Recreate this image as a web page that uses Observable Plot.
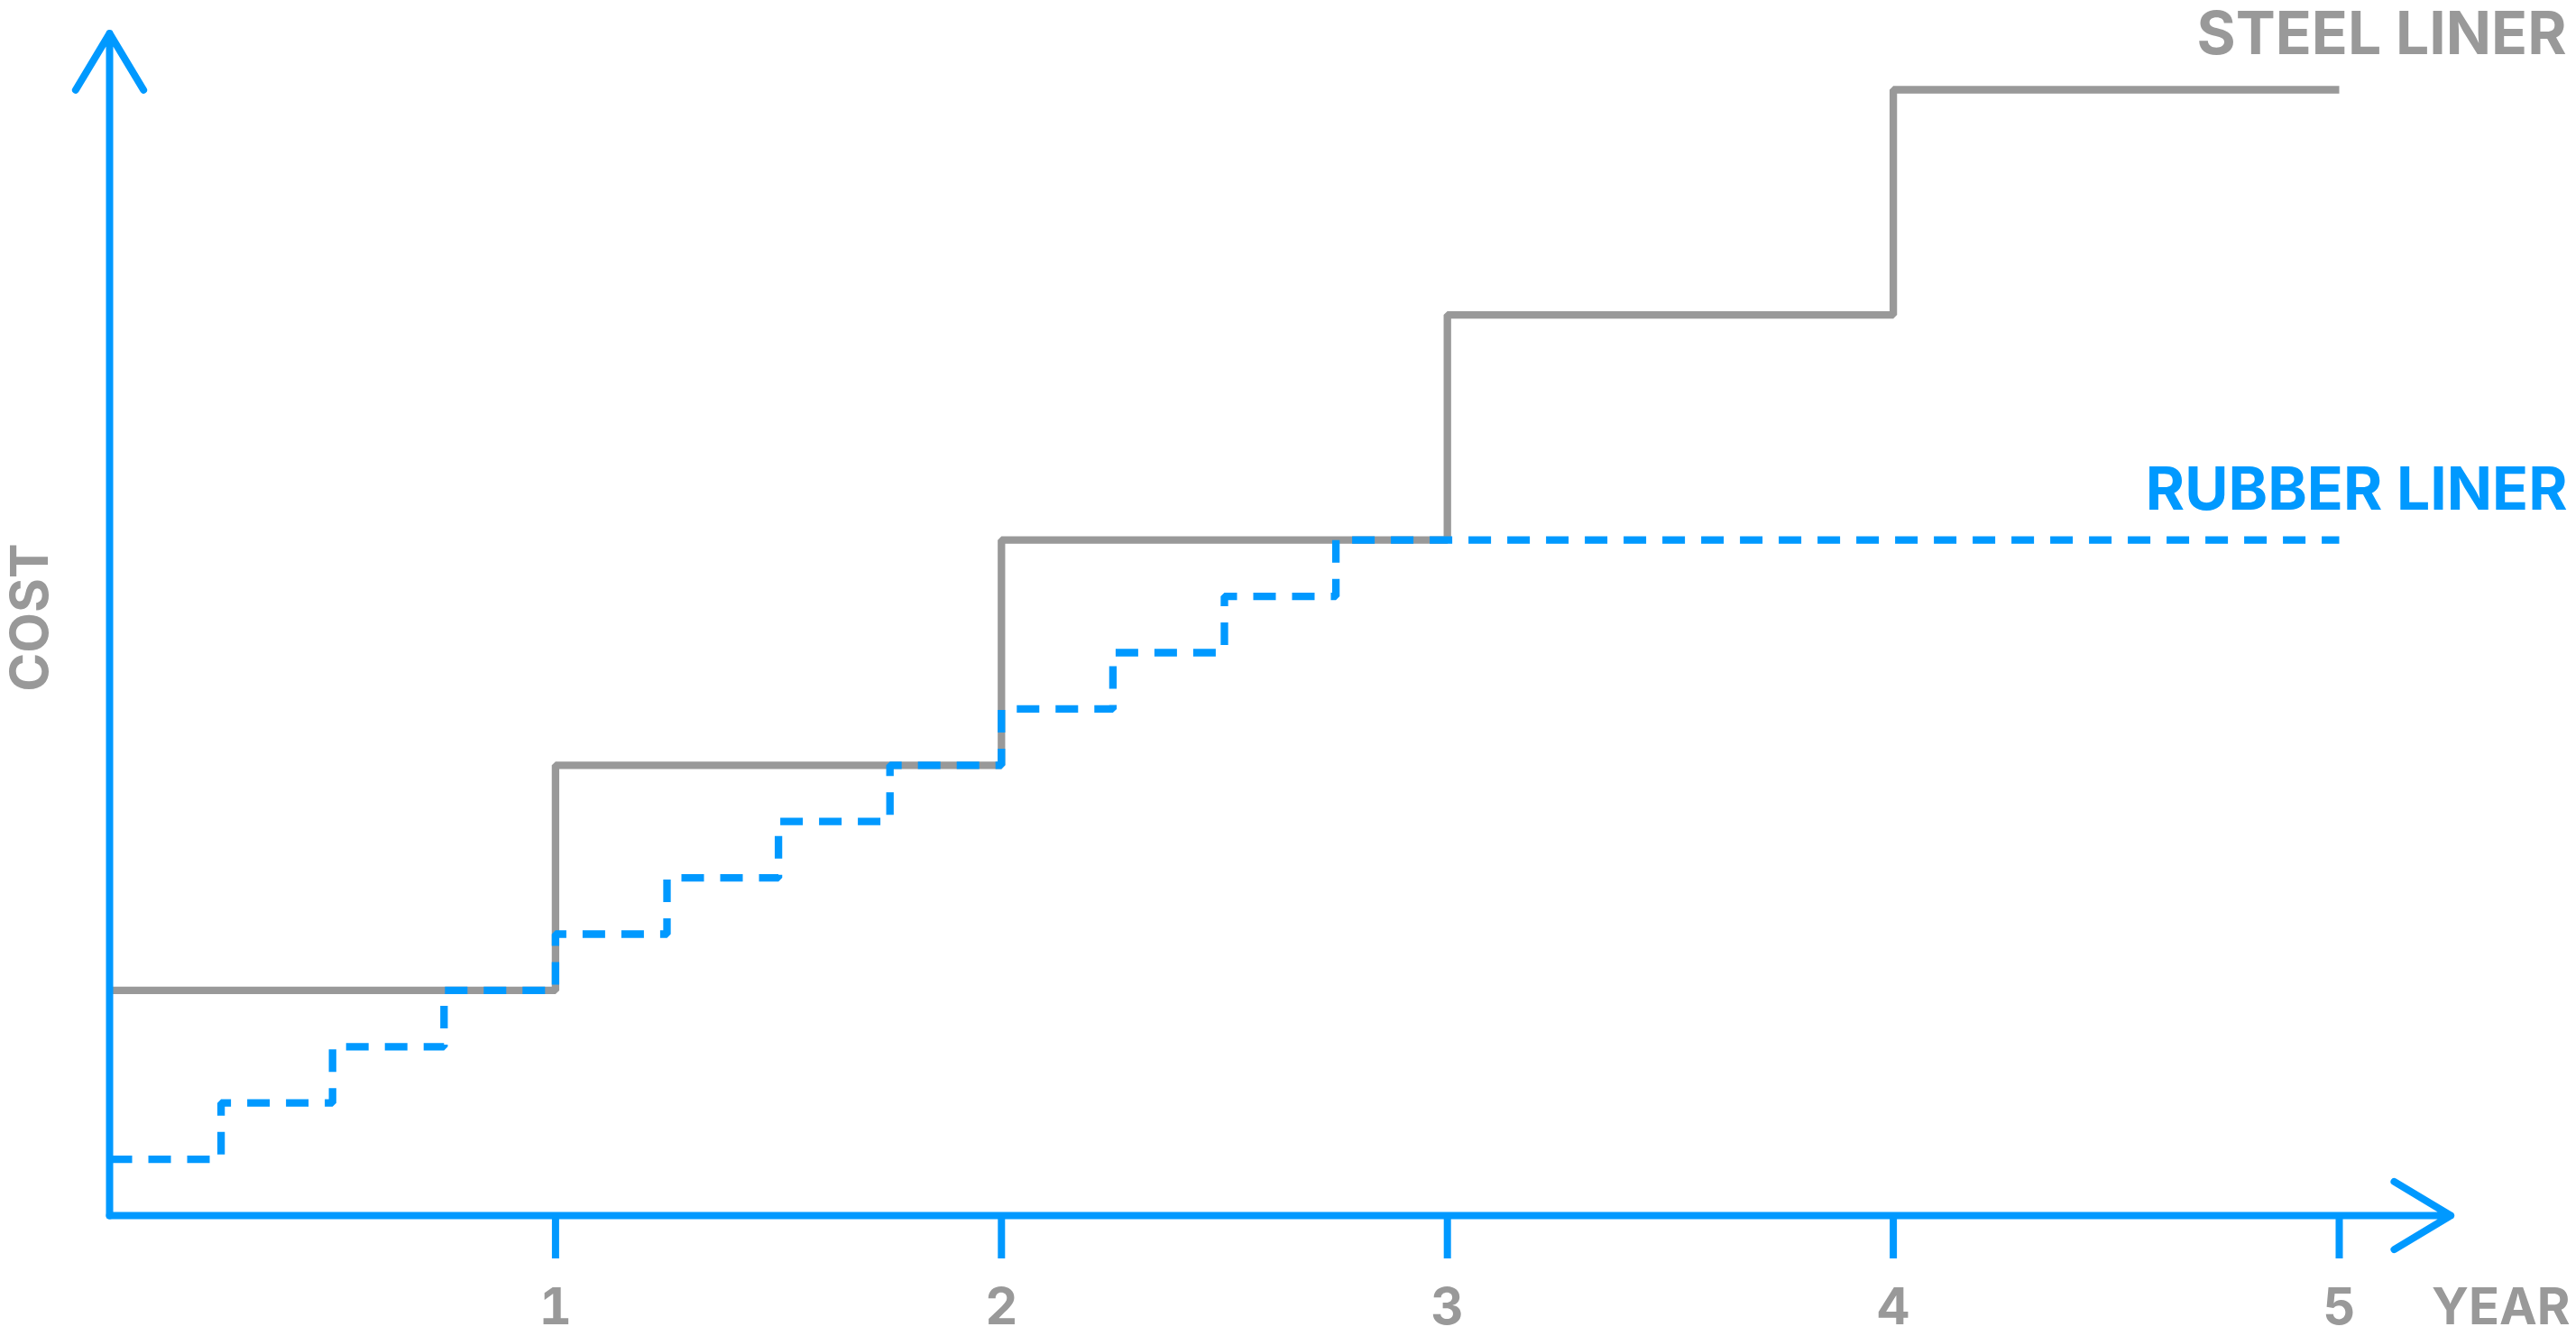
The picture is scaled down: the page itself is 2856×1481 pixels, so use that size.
<!DOCTYPE html>
<html>
<head>
<meta charset="utf-8">
<script src="https://cdn.jsdelivr.net/npm/d3@7"></script>
<script src="https://cdn.jsdelivr.net/npm/@observablehq/plot@0.6"></script>
<style>
  html, body { margin: 0; padding: 0; background: #ffffff; }
  svg { display: block; }
</style>
</head>
<body>
<div id="chart"></div>
<script>
// ---- data ----
const steelYear = [0, 1, 2, 3, 4, 5];
const steelCost = [1, 2, 3, 4, 5, 5];
const rubberYear = [0, 0.25, 0.5, 0.75, 1, 1.25, 1.5, 1.75, 2, 2.25, 2.5, 2.75, 5];
const rubberCost = [0.25, 0.5, 0.75, 1, 1.25, 1.5, 1.75, 2, 2.25, 2.5, 2.75, 3, 3];
const yearTicks = [1, 2, 3, 4, 5];
const seriesNames = ["STEEL LINER", "RUBBER LINER"];
const xTitle = "YEAR";
const yTitle = "COST";
const axisEnd = 5.25;

// ---- tables ----
const steel = steelYear.map((year, i) => ({year, cost: steelCost[i]}));
const rubber = rubberYear.map((year, i) => ({year, cost: rubberCost[i]}));
const seriesLabels = [
  {...steel[steel.length - 1], label: seriesNames[0]},
  {...rubber[rubber.length - 1], label: seriesNames[1]}
];
const axes = [
  {x1: 0, y1: 0, x2: axisEnd, y2: 0},
  {x1: 0, y1: 0, x2: 0, y2: axisEnd}
];

const BLUE = "#0099ff";
const GRAY = "#999999";
const FONT = "Inter, 'Noto Sans', 'Liberation Sans', sans-serif";

const chart = Plot.plot({
  width: 2856,
  height: 1481,
  marginLeft: 121,
  marginRight: 263,
  marginTop: 99,
  marginBottom: 134,
  style: {fontFamily: FONT, background: "#ffffff", overflow: "visible"},
  x: {domain: [0, 5]},
  y: {domain: [0, 5], axis: null},
  marks: [
    Plot.line(steel, {x: "year", y: "cost", curve: "step-after", stroke: GRAY, strokeWidth: 8.3, strokeLinecap: "butt", strokeLinejoin: "miter"}),
    Plot.line(rubber, {x: "year", y: "cost", curve: "step-after", stroke: BLUE, strokeWidth: 8.3, strokeDasharray: "25,18", strokeLinecap: "butt", strokeLinejoin: "miter"}),
    Plot.axisX({
      ticks: yearTicks, tickSize: 48, tickPadding: 33, label: null,
      stroke: BLUE, strokeWidth: 8, fill: GRAY,
      fontSize: 56, fontWeight: 700, tickFormat: d => String(d)
    }),
    Plot.arrow(axes, {
      x1: "x1", y1: "y1", x2: "x2", y2: "y2",
      stroke: BLUE, strokeWidth: 8, headAngle: 62, headLength: 13.7,
      strokeLinecap: "round", strokeLinejoin: "round"
    }),
    Plot.text(seriesLabels.slice(0, 1), {
      x: "year", y: "cost", text: "label", textAnchor: "end", lineAnchor: "bottom",
      dx: 252, dy: -40, fontSize: 66, fontWeight: 700, fill: GRAY
    }),
    Plot.text(seriesLabels.slice(1), {
      x: "year", y: "cost", text: "label", textAnchor: "end", lineAnchor: "bottom",
      dx: 253, dy: -34, fontSize: 66, fontWeight: 700, fill: BLUE
    }),
    Plot.text([{year: 5, cost: 0, label: xTitle}], {
      x: "year", y: "cost", text: "label", textAnchor: "end", lineAnchor: "bottom",
      dx: 256, dy: 120, fontSize: 56, fontWeight: 700, fill: GRAY
    }),
    Plot.text([yTitle], {
      frameAnchor: "left", text: d => d, rotate: -90, textAnchor: "middle", lineAnchor: "middle",
      dx: -87, dy: -39, fontSize: 58, fontWeight: 700, fill: GRAY
    })
  ]
});

document.getElementById("chart").appendChild(chart);
</script>
</body>
</html>
